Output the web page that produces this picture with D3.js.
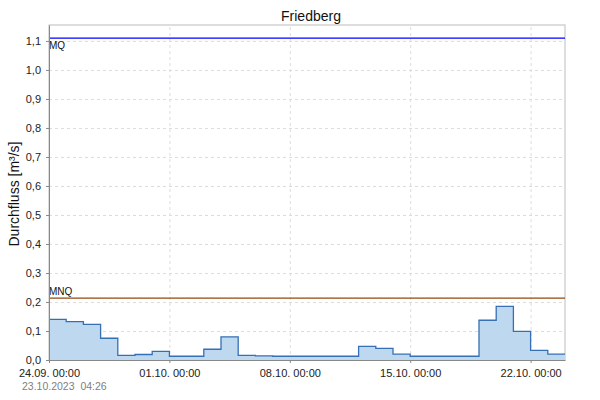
<!DOCTYPE html>
<html>
<head>
<script src="https://d3js.org/d3.v7.min.js"></script>
<style>
  body { margin: 0; background: #fff; }
  text { font-family: 'Liberation Sans', Arial, sans-serif; }
  .grid line { stroke: #dcdcdc; stroke-dasharray: 3,3; }
  .grid .domain { display: none; }
  .axis text { font-size: 11px; fill: #222; }
  .axis line, .axis path { stroke: #888; }
</style>
</head>
<body>
<svg id="chart" width="600" height="400"></svg>
<script>
'use strict';

var days = ["2023-09-24","2023-09-25","2023-09-26","2023-09-27","2023-09-28","2023-09-29","2023-09-30",
            "2023-10-01","2023-10-02","2023-10-03","2023-10-04","2023-10-05","2023-10-06","2023-10-07",
            "2023-10-08","2023-10-09","2023-10-10","2023-10-11","2023-10-12","2023-10-13","2023-10-14",
            "2023-10-15","2023-10-16","2023-10-17","2023-10-18","2023-10-19","2023-10-20","2023-10-21",
            "2023-10-22","2023-10-23"];
var flow = [0.140,0.132,0.123,0.075,0.016,0.019,0.030,
            0.013,0.013,0.037,0.080,0.016,0.014,0.013,
            0.013,0.013,0.013,0.013,0.047,0.040,0.020,
            0.013,0.013,0.013,0.013,0.137,0.185,0.099,
            0.033,0.020];
var endDay = "2023-10-24";
var yTicks = [0,0.1,0.2,0.3,0.4,0.5,0.6,0.7,0.8,0.9,1.0,1.1];
var xTicks = ["2023-09-24","2023-10-01","2023-10-08","2023-10-15","2023-10-22"];
var refLines = [{name: "MQ", value: 1.11, color: "#0000ff"},
                {name: "MNQ", value: 0.213, color: "#934812"}];
var title = "Friedberg";
var yLabel = "Durchfluss [m³/s]";
var stamp = "23.10.2023  04:26";

var margin = {top: 25, right: 35, bottom: 40, left: 49};
var width = 600 - margin.left - margin.right;
var height = 400 - margin.top - margin.bottom;

var parse = d3.timeParse("%Y-%m-%d");
var data = days.map(function(d, i) { return {date: parse(d), value: flow[i]}; });
data.push({date: parse(endDay), value: flow[flow.length - 1]});

var x = d3.scaleTime().domain([parse(days[0]), parse(endDay)]).range([0, width]);
var y = d3.scaleLinear().domain([0, 1.155]).range([height, 0]);

var svg = d3.select("#chart");
var g = svg.append("g").attr("transform", "translate(" + margin.left + "," + margin.top + ")");

var comma = d3.formatLocale({decimal: ",", thousands: ".", grouping: [3], currency: ["", "€"]}).format(".1f");
var fmtDate = d3.timeFormat("%d.%m. %H:%M");

g.append("g").attr("class", "grid")
  .call(d3.axisLeft(y).tickValues(yTicks).tickSize(-width).tickFormat(""));
g.append("g").attr("class", "grid")
  .attr("transform", "translate(0," + height + ")")
  .call(d3.axisBottom(x).tickValues(xTicks.map(parse)).tickSize(-height).tickFormat(""));

g.append("rect")
  .attr("width", width).attr("height", height)
  .attr("fill", "none").attr("stroke", "#bbb");

var area = d3.area().curve(d3.curveStepAfter)
  .x(function(d) { return x(d.date); })
  .y0(y(0)).y1(function(d) { return y(d.value); });
var line = d3.line().curve(d3.curveStepAfter)
  .x(function(d) { return x(d.date); })
  .y(function(d) { return y(d.value); });

g.append("path").datum(data).attr("d", area).attr("fill", "#bed8f0");
g.append("path").datum(data).attr("d", line)
  .attr("fill", "none").attr("stroke", "#3570b5").attr("stroke-width", 1.3);

refLines.forEach(function(r) {
  g.append("line")
    .attr("x1", 0).attr("x2", width)
    .attr("y1", y(r.value)).attr("y2", y(r.value))
    .attr("stroke", r.color).attr("stroke-width", 1.2);
});
g.append("text").attr("x", 0).attr("y", y(refLines[0].value) + 11)
  .attr("font-size", 10).attr("fill", "#111").text(refLines[0].name);
g.append("text").attr("x", 0).attr("y", y(refLines[1].value) - 3)
  .attr("font-size", 10).attr("fill", "#111").text(refLines[1].name);

g.append("g").attr("class", "axis")
  .call(d3.axisLeft(y).tickValues(yTicks).tickSize(3).tickSizeOuter(0).tickFormat(comma))
  .selectAll("text").attr("dx", "-2");

g.append("g").attr("class", "axis")
  .attr("transform", "translate(0," + height + ")")
  .call(d3.axisBottom(x).tickValues(xTicks.map(parse)).tickSize(3).tickSizeOuter(0).tickFormat(fmtDate))
  .selectAll("text").attr("dy", "1.0em");

svg.append("text").attr("x", 311).attr("y", 21)
  .attr("text-anchor", "middle").attr("font-size", 14).attr("fill", "#111").text(title);

svg.append("text")
  .attr("transform", "translate(19," + 194 + ") rotate(-90)")
  .attr("text-anchor", "middle").attr("font-size", 14).attr("fill", "#111").text(yLabel);

svg.append("text").attr("x", 22).attr("y", 390)
  .style("white-space", "pre")
  .attr("font-size", 10.5).attr("fill", "#808080").text(stamp);
</script>
</body>
</html>
